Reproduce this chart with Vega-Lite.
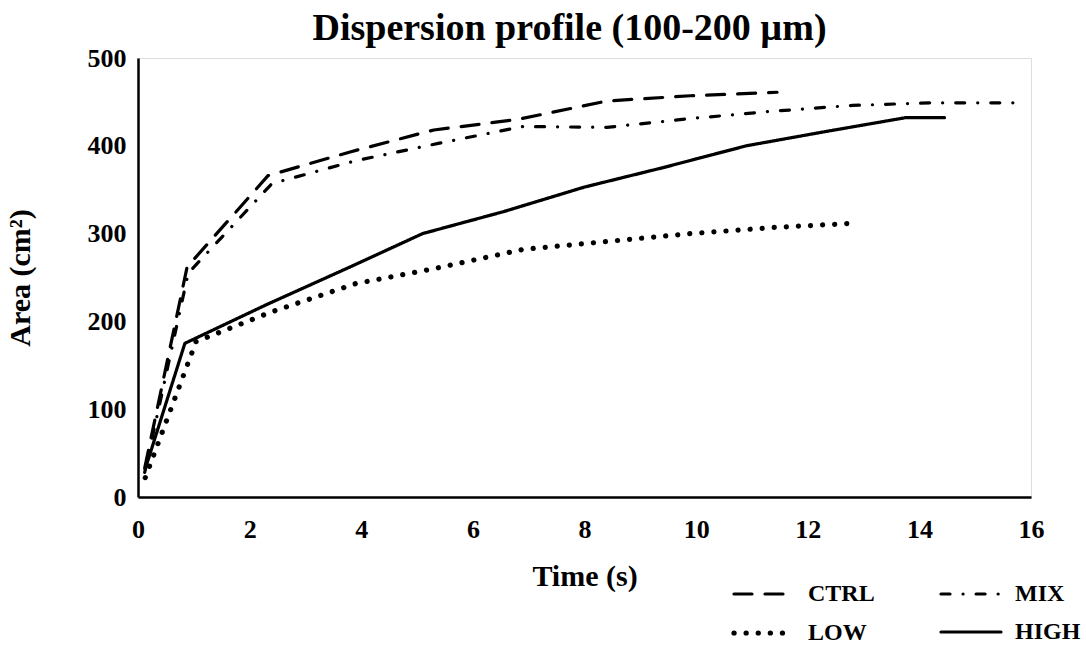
{
  "$schema": "https://vega.github.io/schema/vega-lite/v6.json",
  "width": 893,
  "height": 439,
  "autosize": {"type": "none"},
  "padding": {"left": 138, "top": 58, "right": 55, "bottom": 152},
  "background": "white",
  "title": {
    "text": "Dispersion profile (100-200 µm)",
    "font": "Liberation Serif",
    "fontSize": 38,
    "fontWeight": "bold",
    "color": "black",
    "anchor": "middle",
    "dx": -15,
    "offset": -3
  },
  "data": {
    "values": [
      {"series": "CTRL", "time": 0.12, "area": 33},
      {"series": "CTRL", "time": 0.88, "area": 262},
      {"series": "CTRL", "time": 2.33, "area": 366},
      {"series": "CTRL", "time": 3.8, "area": 393},
      {"series": "CTRL", "time": 5.3, "area": 418},
      {"series": "CTRL", "time": 6.8, "area": 430},
      {"series": "CTRL", "time": 8.4, "area": 451},
      {"series": "CTRL", "time": 9.9, "area": 457},
      {"series": "CTRL", "time": 11.45, "area": 461},
      {"series": "MIX", "time": 0.12, "area": 28},
      {"series": "MIX", "time": 0.9, "area": 255},
      {"series": "MIX", "time": 2.4, "area": 357},
      {"series": "MIX", "time": 3.9, "area": 383},
      {"series": "MIX", "time": 5.4, "area": 403},
      {"series": "MIX", "time": 6.9, "area": 422},
      {"series": "MIX", "time": 8.4, "area": 421},
      {"series": "MIX", "time": 9.9, "area": 431},
      {"series": "MIX", "time": 11.3, "area": 439},
      {"series": "MIX", "time": 12.8, "area": 446},
      {"series": "MIX", "time": 14.2, "area": 449},
      {"series": "MIX", "time": 15.75, "area": 449},
      {"series": "LOW", "time": 0.13, "area": 22},
      {"series": "LOW", "time": 1.04, "area": 177},
      {"series": "LOW", "time": 2.4, "area": 211},
      {"series": "LOW", "time": 3.9, "area": 243},
      {"series": "LOW", "time": 5.3, "area": 260},
      {"series": "LOW", "time": 6.9, "area": 282},
      {"series": "LOW", "time": 8.4, "area": 291},
      {"series": "LOW", "time": 9.9, "area": 300},
      {"series": "LOW", "time": 11.4, "area": 307},
      {"series": "LOW", "time": 12.9, "area": 312},
      {"series": "HIGH", "time": 0.13, "area": 32},
      {"series": "HIGH", "time": 0.84, "area": 175},
      {"series": "HIGH", "time": 2.3, "area": 219},
      {"series": "HIGH", "time": 3.8, "area": 262},
      {"series": "HIGH", "time": 5.1, "area": 300},
      {"series": "HIGH", "time": 6.55, "area": 325},
      {"series": "HIGH", "time": 8.0, "area": 353},
      {"series": "HIGH", "time": 9.4, "area": 375},
      {"series": "HIGH", "time": 10.9, "area": 400},
      {"series": "HIGH", "time": 12.3, "area": 416},
      {"series": "HIGH", "time": 13.75, "area": 432},
      {"series": "HIGH", "time": 14.45, "area": 432}
    ]
  },
  "mark": {"type": "line", "color": "black", "strokeCap": "round", "strokeJoin": "round"},
  "encoding": {
    "x": {
      "field": "time",
      "type": "quantitative",
      "scale": {"domain": [0, 16], "nice": false},
      "axis": {
        "title": "Time (s)",
        "values": [0, 2, 4, 6, 8, 10, 12, 14, 16],
        "grid": false,
        "ticks": false,
        "domainColor": "black",
        "domainWidth": 2.5,
        "labelFont": "Liberation Serif",
        "labelFontSize": 26,
        "labelFontWeight": "bold",
        "labelColor": "black",
        "labelPadding": 19,
        "labelFlush": false,
        "titleFont": "Liberation Serif",
        "titleFontSize": 30,
        "titleFontWeight": "bold",
        "titleColor": "black",
        "titlePadding": 19
      }
    },
    "y": {
      "field": "area",
      "type": "quantitative",
      "scale": {"domain": [0, 500], "nice": false},
      "axis": {
        "title": "Area (cm²)",
        "values": [0, 100, 200, 300, 400, 500],
        "grid": false,
        "ticks": false,
        "domainColor": "black",
        "domainWidth": 2.5,
        "labelFont": "Liberation Serif",
        "labelFontSize": 26,
        "labelFontWeight": "bold",
        "labelColor": "black",
        "labelPadding": 12,
        "labelFlush": false,
        "titleFont": "Liberation Serif",
        "titleFontSize": 30,
        "titleFontWeight": "bold",
        "titleColor": "black",
        "titlePadding": 52
      }
    },
    "strokeDash": {
      "field": "series",
      "type": "nominal",
      "scale": {
        "domain": ["CTRL", "MIX", "LOW", "HIGH"],
        "range": [[18, 13], [9, 13, 0.1, 13], [0.1, 12], [1, 0]]
      },
      "legend": {
        "title": null,
        "orient": "none",
        "direction": "horizontal",
        "legendX": 613,
        "legendY": 524,
        "columns": 2,
        "padding": 0,
        "symbolType": "M-3,0H3",
        "symbolSize": 400,
        "symbolStrokeWidth": 3.2,
        "symbolStrokeColor": "black",
        "symbolFillColor": "transparent",
        "labelFont": "Liberation Serif",
        "labelFontSize": 24,
        "labelFontWeight": "bold",
        "labelColor": "black",
        "labelOffset": 31,
        "columnPadding": 59,
        "rowPadding": 14,
        "encode": {"symbols": {"update": {"strokeCap": {"value": "round"}}}}
      }
    },
    "strokeWidth": {
      "field": "series",
      "type": "nominal",
      "scale": {"type": "ordinal", "domain": ["CTRL", "MIX", "LOW", "HIGH"], "range": [3.2, 3.2, 5.2, 3.2]},
      "legend": null
    }
  }
}
